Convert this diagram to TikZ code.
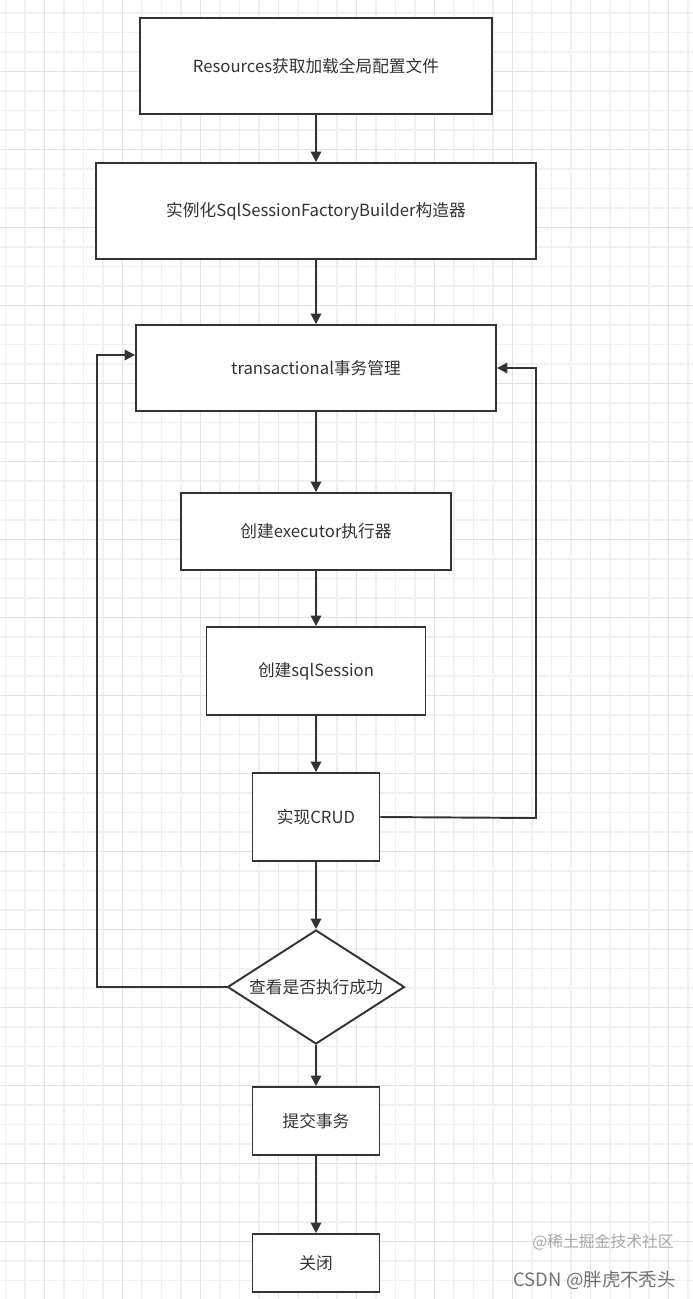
\documentclass[tikz,border=0pt]{standalone}
\usepackage{fontspec}
\setmainfont{Noto Sans CJK SC}
\usetikzlibrary{shapes.geometric,arrows.meta}
\definecolor{lineC}{HTML}{333333}
\tikzset{
  box/.style={draw=lineC, line width=1.1pt, fill=white, font=\fontsize{9.5}{11}\selectfont, text=lineC},
  flow/.style={draw=lineC, line width=1.1pt, -{Triangle[length=6pt,width=6pt]}},
}
\begin{document}
\begin{tikzpicture}[x=0.02cm, y=-0.02cm]
  \useasboundingbox (0,0) rectangle (693,1299);
  % grid
  \foreach \x in {5.5,25,...,693} \draw[black!6, line width=0.6pt] (\x,0) -- (\x,1299);
  \foreach \y in {13,32.5,...,1299} \draw[black!6, line width=0.6pt] (0,\y) -- (693,\y);
  \foreach \x in {44.5,122.5,...,693} \draw[black!11, line width=0.7pt] (\x,0) -- (\x,1299);
  \foreach \y in {71.5,149.5,...,1299} \draw[black!11, line width=0.7pt] (0,\y) -- (693,\y);

  \node[box, minimum width=7.04cm, minimum height=1.92cm] (res) at (316,66) {Resources获取加载全局配置文件};
  \node[box, minimum width=8.8cm, minimum height=1.92cm] (build) at (316,211) {实例化SqlSessionFactoryBuilder构造器};
  \node[box, minimum width=7.2cm, minimum height=1.72cm] (trans) at (316,368) {transactional事务管理};
  \node[box, minimum width=5.4cm, minimum height=1.54cm] (exec) at (316,531.5) {创建executor执行器};
  \node[box, minimum width=4.38cm, minimum height=1.76cm] (sess) at (316,671) {创建sqlSession};
  \node[box, minimum width=2.54cm, minimum height=1.76cm] (crud) at (316,817) {实现CRUD};
  \node[box, diamond, aspect=1.55, inner sep=0pt, minimum width=3.54cm, minimum height=2.28cm] (check) at (316,987) {查看是否执行成功};
  \node[box, minimum width=2.54cm, minimum height=1.36cm] (commit) at (316,1121) {提交事务};
  \node[box, minimum width=2.54cm, minimum height=1.16cm] (close) at (316,1263) {关闭};

  \coordinate (lf) at (97,987);
  \coordinate (rt) at (536,818);

  \draw[flow] (res) -- (build);
  \draw[flow] (build) -- (trans);
  \draw[flow] (trans) -- (exec);
  \draw[flow] (exec) -- (sess);
  \draw[flow] (sess) -- (crud);
  \draw[flow] (crud) -- (check);
  \draw[flow] (check) -- (commit);
  \draw[flow] (commit) -- (close);
  \draw[flow] (check.west) -- (lf) |- ([yshift=0.26cm]trans.west);
  \draw[flow] (crud.east) -- (rt) |- (trans.east);

  \node[anchor=east, text=black!35, font=\fontsize{9}{10}\selectfont] (wm1) at (680,1242) {@稀土掘金技术社区};
  \node[anchor=east, text=black!55, font=\fontsize{10.5}{12}\selectfont] (wm2) at (682,1280) {CSDN @胖虎不秃头};
\end{tikzpicture}
\end{document}
